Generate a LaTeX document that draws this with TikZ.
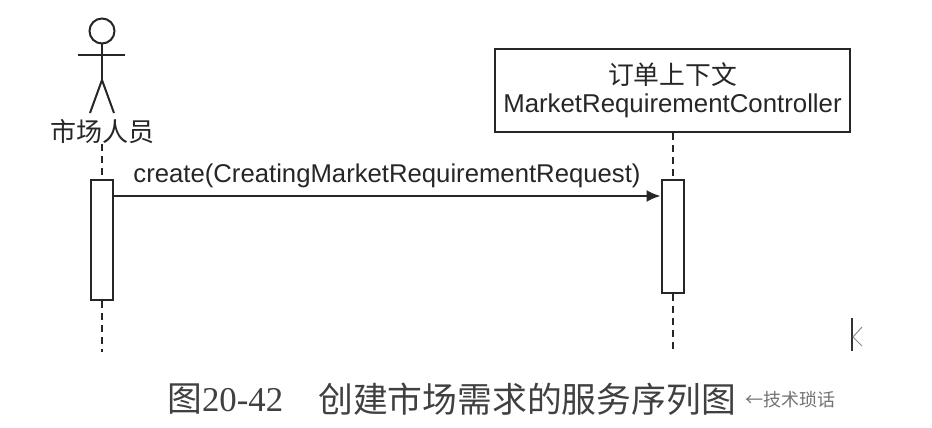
\documentclass[tikz,border=0pt]{standalone}
\usepackage{fontspec}
\setmainfont{Liberation Sans}
\newfontfamily\cjk{Noto Sans CJK SC}
\newfontfamily\capfont{Liberation Serif}
\usetikzlibrary{arrows.meta, positioning}

\begin{document}
\begin{tikzpicture}[x=1pt, y=-1pt, auto,
activation/.style={
  rectangle, draw, line width=2pt, black!85,
  minimum width=22pt, inner sep=0pt
},
lifeline/.style={draw, line width=2pt, black!85, dash pattern=on 7pt off 5pt},
stickman/.style={draw, line width=2pt, black!85},
message/.style={draw, line width=2pt, black!85, -{Latex[length=14pt, width=12pt]}},
caption/.style={inner sep=0pt, text=black!75, font=\fontsize{34.8}{38}\selectfont}
]
\useasboundingbox (0,0) rectangle (932,428);
% actor
\node (head) [circle, stickman, minimum size=25pt, inner sep=0pt] at (102,31) {};
\coordinate (armleft) at (78,55);
\coordinate (armright) at (125,55);
\coordinate (hip) at (102,80);
\coordinate (footleft) at (90,113);
\coordinate (footright) at (114,113);
\draw[stickman] (head) -- (hip);
\draw[stickman] (armleft) -- (armright);
\draw[stickman] (footleft) -- (hip) -- (footright);
\node (actor) [inner sep=0pt, text=black!85, font=\cjk\fontsize{26}{28}\selectfont] at (102,132) {市场人员};
% controller box
\node (controller) [rectangle, draw, line width=2pt, black!85, minimum width=355pt, minimum height=83pt,
  align=center, inner sep=0pt, font=\fontsize{25.8}{28.5}\selectfont] at (672.5,90.5)
  {\raisebox{-1pt}{\cjk 订单上下文}\\[1pt]MarketRequirementController};
% activation bars
\node (barleft) [activation, minimum height=120pt] at (102,240) {};
\node (barright) [activation, minimum height=113pt] at (672.5,236.5) {};
% lifelines
\coordinate (endleft) at (102,352);
\coordinate (endright) at (672.5,352);
\path[lifeline] (actor) -- (barleft);
\path[lifeline] (barleft) -- (endleft);
\path[lifeline] (controller) -- (barright);
\path[lifeline] (barright) -- (endright);
% message
\coordinate (msgfrom) at (barleft.east |- 0,196);
\coordinate (msgto) at (barright.west |- 0,196);
\path[message] (msgfrom) -- (msgto);
\node (msglabel) [inner sep=0pt, text=black!85, font=\fontsize{25.7}{28}\selectfont] at (387,175.5) {create(CreatingMarketRequirementRequest)};
% caption
\node (figno) [caption, anchor=west] at (167,399) {{\cjk 图}{\capfont 20-42}};
\node (figtitle) [caption, anchor=west] at (318,399) {\cjk 创建市场需求的服务序列图};
\node (mark) [anchor=west, inner sep=0pt, text=black!55, font=\cjk\fontsize{18}{20}\selectfont] at (745,400) {←技术琐话};
% edge mark
\coordinate (edgetop) at (852,318);
\coordinate (edgebot) at (852,351);
\coordinate (tipout) at (862,327);
\coordinate (tipin) at (853,337);
\coordinate (tipend) at (862,346);
\draw[line width=1.2pt, black!80] (edgetop) -- (edgebot);
\draw[line width=1pt, black!45] (tipout) -- (tipin) -- (tipend);
\end{tikzpicture}
\end{document}
